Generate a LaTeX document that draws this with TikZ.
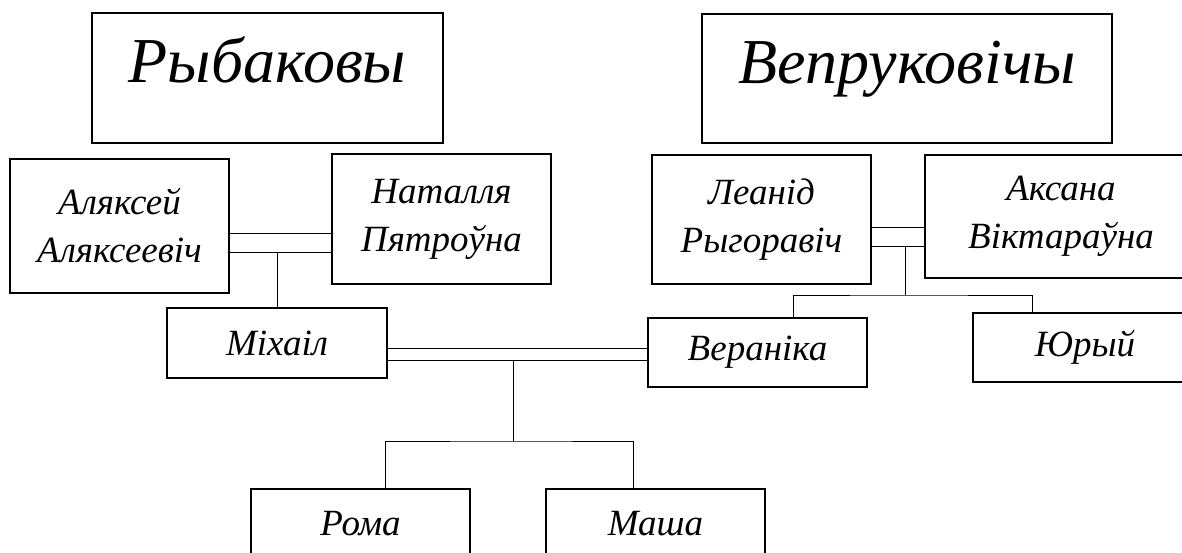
\documentclass[tikz,border=0pt]{standalone}
\usepackage{fontspec}
\setmainfont{Liberation Serif}
\begin{document}
\begin{tikzpicture}[x=1pt, y=-1pt,
		person/.style={draw, line width=1.5pt, inner sep=0pt, align=center, font=\fontsize{37}{48}\selectfont\itshape},
		family/.style={person, text height=45pt, text depth=35pt, font=\fontsize{64}{70}\selectfont\itshape},
		link/.style={line width=0.9pt}]
	\useasboundingbox (0,0) rectangle (1182,553);
	\node[family, minimum width=351pt, minimum height=130pt] (ryb) at (267.5,78) {Рыбаковы};
	\node[family, minimum width=410pt, minimum height=129pt] (vep) at (907,78.5) {Вепруковічы};
	\node[person, minimum width=219pt, minimum height=134pt] (alx) at (119.5,226) {Аляксей\\Аляксеевіч};
	\node[person, minimum width=219pt, minimum height=130pt] (nat) at (441.5,219) {Наталля\\Пятроўна};
	\node[person, minimum width=220pt, minimum height=70pt] (mih) at (277,343) {Міхаіл};
	\node[person, minimum width=219pt, minimum height=129pt] (leo) at (761.5,219.5) {Леанід\\Рыгоравіч};
	\node[person, minimum width=272pt, minimum height=123pt] (aks) at (1061,216.5) {Аксана\\Віктараўна};
	\node[person, minimum width=219pt, minimum height=69pt] (ver) at (757.5,352.5) {Вераніка};
	\node[person, minimum width=224pt, minimum height=69pt] (yur) at (1085,347.5) {Юрый};
	\node[person, minimum width=219pt, minimum height=70pt] (rom) at (360.5,524) {Рома};
	\node[person, minimum width=219pt, minimum height=70pt] (mas) at (655.5,524) {Маша};
	\coordinate (sib) at (905,295);
	\coordinate (kids) at (513,441);
	\draw[link] (alx.east |- 0,233) -- (nat.west |- 0,233);
	\draw[link] (alx.east |- 0,252) -- (nat.west |- 0,252);
	\draw[link] (mih.north |- 0,252) -- (mih.north);
	\draw[link] (leo.east |- 0,227) -- (aks.west |- 0,227);
	\draw[link] (leo.east |- 0,246) -- (aks.west |- 0,246);
	\draw[link] (sib |- 0,246) -- (sib);
	\draw[link] (ver.north -| 793,0) |- (sib) -| (yur.north -| 1032,0);
	\draw[link] (mih.east |- 0,348) -- (ver.west |- 0,348);
	\draw[link] (mih.east |- 0,360) -- (ver.west |- 0,360);
	\draw[link] (kids |- 0,360) -- (kids);
	\draw[link] (rom.north -| 385,0) |- (kids) -| (mas.north -| 633,0);
\end{tikzpicture}
\end{document}
